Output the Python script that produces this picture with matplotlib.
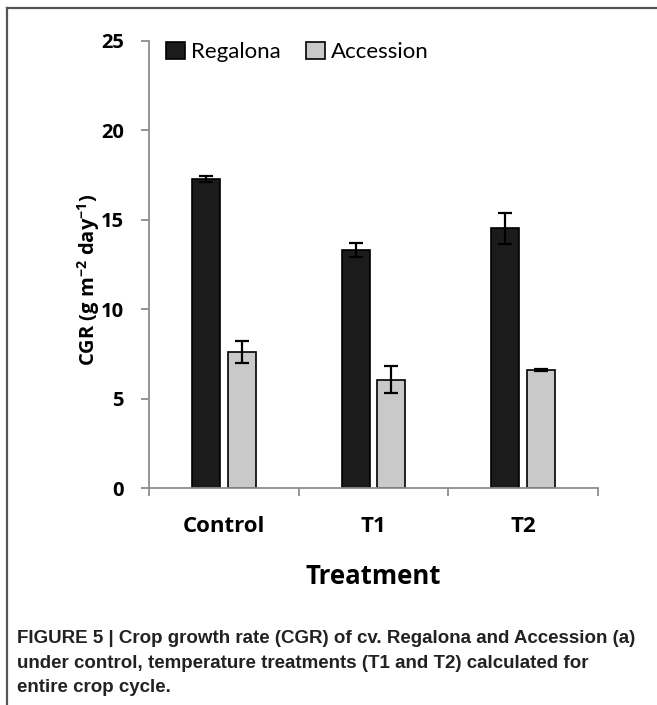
import matplotlib

matplotlib.use("Agg")
import matplotlib.pyplot as plt
import numpy as np
from matplotlib.lines import Line2D
from matplotlib.patches import Patch

treatments = ["Control", "T1", "T2"]
regalona = [17.28, 13.31, 14.52]
regalona_err = [0.18, 0.40, 0.87]
accession = [7.59, 6.06, 6.62]
accession_err = [0.62, 0.75, 0.05]
y_ticks = [0, 5, 10, 15, 20, 25]

caption = (
    "FIGURE 5 | Crop growth rate (CGR) of cv. Regalona and Accession (a)\n"
    "under control, temperature treatments (T1 and T2) calculated for\n"
    "entire crop cycle."
)

plt.rcParams["mathtext.fontset"] = "custom"
plt.rcParams["mathtext.bf"] = "Open Sans:bold"
plt.rcParams["mathtext.rm"] = "Open Sans:bold"

W, H = 657, 705
fig = plt.figure(figsize=(W / 100, H / 100), dpi=100)
ax = fig.add_axes([149 / W, 1 - 488 / H, (598 - 149) / W, (488 - 41) / H])

x = np.arange(len(treatments))
width = 0.187
offset = 0.12
err_kw = dict(ecolor="black", elinewidth=1.6, capsize=4.8, capthick=1.6)

ax.bar(x - offset, regalona, width, color="#1b1b1b", edgecolor="black",
       linewidth=1.2, yerr=regalona_err, error_kw=err_kw, zorder=2)
ax.bar(x + offset, accession, width, color="#c9c9c9", edgecolor="black",
       linewidth=1.2, yerr=accession_err, error_kw=err_kw, zorder=2)

ax.set_xlim(-0.5, 2.5)
ax.set_ylim(0, 25)

axis_grey = "#8c8c8c"
for side in ("top", "right"):
    ax.spines[side].set_visible(False)
for side in ("left", "bottom"):
    ax.spines[side].set_color(axis_grey)
    ax.spines[side].set_linewidth(1.3)

bold_font = "Open Sans"
ax.set_yticks(y_ticks)
ax.set_yticklabels([str(v) for v in y_ticks], fontsize=14.5, fontweight="bold",
                   family=bold_font)
ax.tick_params(axis="y", direction="out", length=6, width=1.3,
               color=axis_grey, pad=12)

# category labels sit at centres, ticks at the boundaries
ax.set_xticks(x)
ax.set_xticklabels(treatments, fontsize=16, fontweight="bold", family=bold_font)
ax.set_xticks([-0.5, 0.5, 1.5, 2.5], minor=True)
ax.tick_params(axis="x", which="major", length=0, pad=20)
ax.tick_params(axis="x", which="minor", direction="out", length=6, width=1.3,
               color=axis_grey)

ax.set_xlabel("Treatment", fontsize=18.5, fontweight="bold", family=bold_font,
              labelpad=19)
ax.set_ylabel(r"CGR (g m$^{-2}$ day$^{-1}$)", fontsize=14.5,
              fontweight="bold", family=bold_font)
ax.yaxis.set_label_coords(-0.105, 0.465)

handles = [
    Patch(facecolor="#1b1b1b", edgecolor="black", linewidth=1.2, label="Regalona"),
    Patch(facecolor="#c9c9c9", edgecolor="black", linewidth=1.2, label="Accession"),
]
fig.legend(handles=handles, loc="center left", bbox_to_anchor=(157 / W, 1 - 52 / H),
           ncol=2, frameon=False, prop={"family": "Lato", "size": 16},
           handlelength=0.85, handleheight=0.85, handletextpad=0.3,
           columnspacing=1.1, borderaxespad=0)

fig.text(17 / W, 1 - 630 / H, caption, ha="left", va="top", fontsize=13.5,
         fontweight="bold", family="Liberation Sans", color="#222222",
         linespacing=1.58)

# frame lines along the top and left edges
fig.add_artist(Line2D([7 / W, 1], [1 - 8 / H, 1 - 8 / H], color="#555555",
                      linewidth=1.6, transform=fig.transFigure))
fig.add_artist(Line2D([7 / W, 7 / W], [0, 1 - 8 / H], color="#555555",
                      linewidth=1.6, transform=fig.transFigure))

fig.savefig("out.png", dpi=100)
